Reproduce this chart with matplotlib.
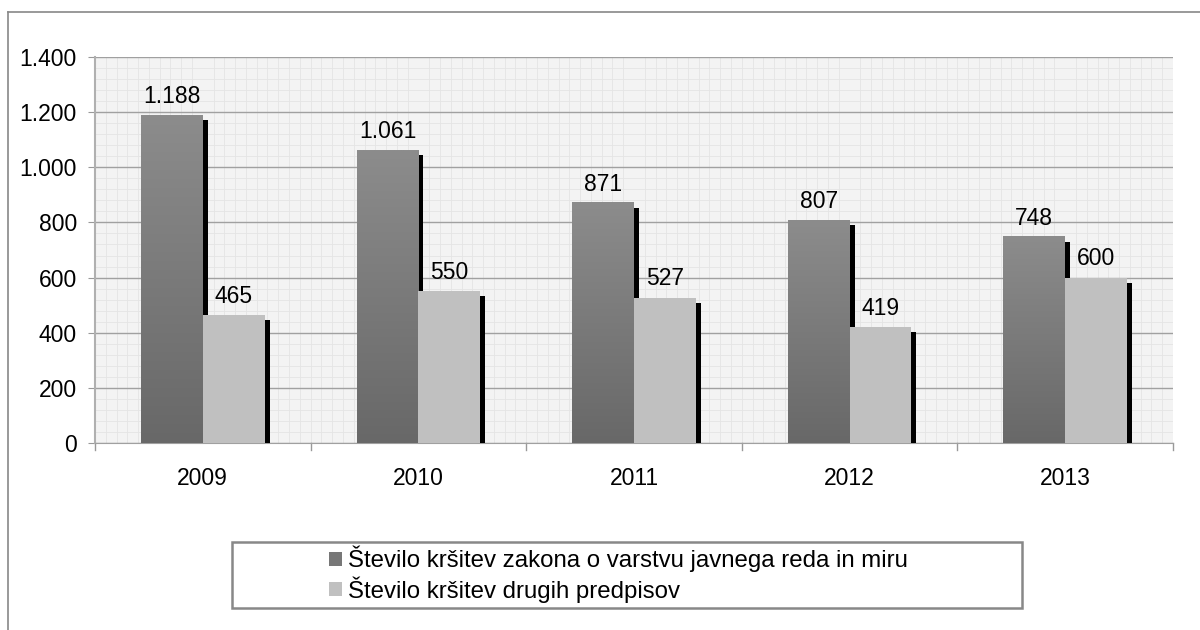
import numpy as np
import matplotlib.pyplot as plt
from matplotlib.colors import LinearSegmentedColormap
from matplotlib.patches import Patch, Rectangle
from matplotlib.lines import Line2D

plt.rcParams['font.family'] = ['Liberation Sans', 'DejaVu Sans']

years = ['2009', '2010', '2011', '2012', '2013']
zakon = [1188, 1061, 871, 807, 748]
drugi = [465, 550, 527, 419, 600]
labels = ['Število kršitev zakona o varstvu javnega reda in miru',
          'Število kršitev drugih predpisov']


def fmt(v):
    return f'{v:,}'.replace(',', '.')


fig = plt.figure(figsize=(12, 6.3), dpi=100)
ax = fig.add_axes([95 / 1200, 1 - 443 / 630, 1078 / 1200, 386 / 630])

x = np.arange(len(years))
w = 0.287
sh_w = 0.023
sh_drop = 18

# shadows first, then bars on top
ax.bar(x + 0.0, np.array(zakon) - sh_drop, sh_w, align='edge', color='black', zorder=2)
b1 = ax.bar(x - w, zakon, w, align='edge', color='#7a7a7a', zorder=3)
ax.bar(x + w, np.array(drugi) - sh_drop, sh_w, align='edge', color='black', zorder=4)
b2 = ax.bar(x, drugi, w, align='edge', color='#c0c0c0', zorder=5)

# vertical gradient on dark bars
cmap = LinearSegmentedColormap.from_list('g', ['#686868', '#8c8c8c'])
grad = np.linspace(0, 1, 256).reshape(-1, 1)
for r in b1:
    ax.imshow(grad, extent=[r.get_x(), r.get_x() + r.get_width(), 0, r.get_height()],
              origin='lower', aspect='auto', cmap=cmap, zorder=3.5)

for r in list(b1) + list(b2):
    ax.text(r.get_x() + r.get_width() / 2, r.get_height() + 68, fmt(int(r.get_height())),
            ha='center', va='center', fontsize=16.5, zorder=6)

ax.set_facecolor('#f3f3f3')

ax.set_yticks(np.arange(0, 1401, 200))
ax.set_yticklabels([fmt(v) for v in range(0, 1401, 200)], fontsize=16.5)
ax.set_yticks(np.arange(0, 1400, 40), minor=True)
ax.set_xticks(x)
ax.set_xticklabels(years, fontsize=16.5)
ax.set_xticks(np.arange(-0.5, len(years) - 0.5, 0.05), minor=True)
ax.set_xlim(-0.5, len(years) - 0.5)
ax.set_ylim(0, 1400)

ax.grid(True, which='major', axis='y', color='#a0a0a0', linewidth=1.0, zorder=1)
ax.grid(True, which='minor', color='#e4e4e4', linewidth=0.6, zorder=0.5)
ax.set_axisbelow(True)

ax.tick_params(axis='y', which='major', length=5, color='#999999', pad=8)
ax.tick_params(axis='y', which='minor', length=0)
ax.tick_params(axis='x', which='major', length=0, pad=17)
ax.tick_params(axis='x', which='minor', length=0)
# category separator ticks below the axis
for b in np.arange(-0.5, len(years), 1.0):
    ax.plot([b, b], [0, -0.018], transform=ax.get_xaxis_transform(), color='#999999',
            linewidth=1, clip_on=False)
ax.set_xlim(-0.5, len(years) - 0.5)

for s in ['top', 'right']:
    ax.spines[s].set_visible(False)
ax.spines['left'].set_color('#b0b0b0')
ax.spines['bottom'].set_color('#a0a0a0')
ax.spines['left'].set_linewidth(1.5)

# outer frame (left and top edges)
fig.add_artist(Line2D([8 / 1200, 8 / 1200], [0, 1 - 12 / 630], color='#888888', linewidth=1.2))
fig.add_artist(Line2D([8 / 1200, 1], [1 - 12 / 630, 1 - 12 / 630], color='#888888', linewidth=1.2))

# legend box
fig.add_artist(Rectangle((232 / 1200, 1 - 608 / 630), 790 / 1200, 66 / 630,
                         transform=fig.transFigure, fill=False, edgecolor='#888888', linewidth=1.8))
handles = [Patch(facecolor='#777777'), Patch(facecolor='#c0c0c0')]
fig.legend(handles, labels, loc='upper left', bbox_to_anchor=(329 / 1200, 1 - 546 / 630),
           frameon=False, fontsize=17.3, handlelength=0.55, handleheight=0.55,
           handletextpad=0.25, labelspacing=0.15, borderaxespad=0, borderpad=0)

fig.savefig('out.png', dpi=100)
